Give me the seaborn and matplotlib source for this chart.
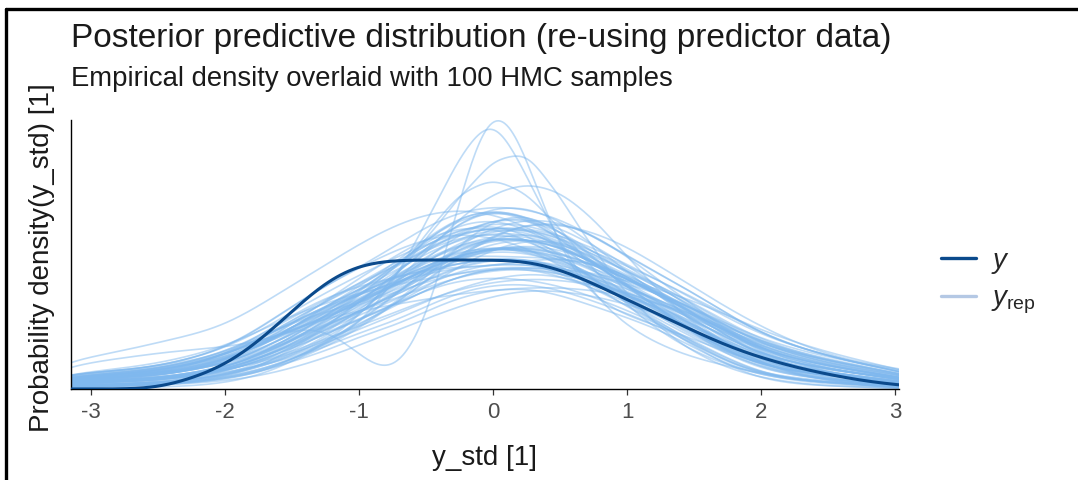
import numpy as np
import pandas as pd
import seaborn as sns
import matplotlib.pyplot as plt
from matplotlib.colors import to_hex
from matplotlib.lines import Line2D

x_grid = [-3.25, -3.0, -2.75, -2.5, -2.25, -2.0, -1.75, -1.5, -1.25, -1.0, -0.75, -0.5, -0.25,
          0.0, 0.25, 0.5, 0.75, 1.0, 1.25, 1.5, 1.75, 2.0, 2.25, 2.5, 2.75, 3.0, 3.25]
x_range = (-3.15, 3.03)

# empirical density of y (relative heights)
y_obs = [0, 0, 0, 0.5, 10, 22, 45, 75, 105, 121, 124.5, 124.5, 124.5, 124.5, 124, 116, 102,
         86, 71, 56, 41, 30, 21, 14, 8, 4, 1.5]

# replicated draws, same relative units
yrep_draws = [
    [7, 9, 11, 13, 18, 24, 36, 54, 68, 84, 98, 117, 131, 137, 137, 129, 114, 99, 84, 67, 48, 33, 25, 19, 15, 10, 6],
    [4, 4, 5, 7, 11, 17, 26, 40, 57, 74, 90, 110, 128, 137, 138, 131, 121, 106, 91, 78, 60, 44, 34, 27, 21, 16, 10],
    [11, 14, 16, 19, 24, 32, 46, 66, 79, 93, 106, 118, 131, 137, 136, 127, 110, 93, 76, 56, 38, 24, 16, 10, 7, 4, 1],
    [5, 6, 7, 9, 12, 17, 26, 40, 52, 68, 79, 96, 110, 117, 117, 110, 97, 84, 70, 53, 35, 23, 17, 13, 10, 6, 2],
    [10, 12, 14, 17, 23, 32, 46, 68, 84, 100, 117, 137, 152, 157, 156, 147, 130, 113, 97, 80, 60, 43, 33, 25, 19, 14, 8],
    [2, 2, 3, 5, 8, 13, 20, 32, 47, 63, 79, 96, 110, 117, 118, 112, 103, 91, 77, 62, 45, 33, 25, 19, 15, 10, 6],
    [7, 9, 11, 13, 18, 27, 40, 60, 77, 96, 116, 136, 151, 157, 157, 149, 137, 120, 104, 87, 68, 52, 41, 32, 24, 18, 11],
    [13, 16, 18, 22, 29, 39, 54, 75, 93, 110, 126, 140, 152, 157, 155, 145, 126, 107, 90, 73, 54, 37, 27, 20, 15, 10, 6],
    [7, 8, 9, 11, 15, 21, 30, 41, 54, 68, 81, 96, 106, 108, 106, 100, 89, 76, 62, 45, 28, 15, 9, 6, 4, 2, 0],
    [8, 10, 12, 15, 20, 27, 37, 53, 68, 84, 99, 113, 123, 127, 126, 118, 104, 89, 71, 54, 37, 24, 17, 13, 10, 6, 2],
    [2, 2, 3, 4, 6, 10, 15, 27, 36, 51, 60, 75, 89, 96, 98, 91, 80, 69, 57, 40, 23, 13, 9, 6, 5, 2, 0],
    [13, 16, 18, 22, 29, 39, 57, 81, 100, 117, 136, 158, 173, 178, 175, 166, 147, 128, 110, 93, 72, 53, 41, 32, 24, 18, 11],
    [5, 6, 7, 10, 14, 21, 31, 48, 65, 83, 99, 116, 130, 137, 138, 131, 120, 106, 91, 74, 56, 42, 33, 25, 19, 14, 8],
    [10, 12, 14, 17, 21, 28, 40, 57, 71, 86, 100, 117, 131, 137, 135, 125, 108, 92, 77, 60, 41, 27, 18, 13, 10, 6, 2],
    [4, 4, 5, 6, 9, 14, 24, 40, 60, 84, 108, 136, 161, 175, 168, 148, 122, 98, 76, 54, 35, 20, 13, 9, 7, 4, 1],
    [11, 14, 16, 20, 26, 33, 45, 58, 69, 76, 81, 87, 92, 96, 98, 99, 96, 90, 83, 72, 59, 45, 36, 29, 22, 16, 9],
    [13, 16, 18, 22, 29, 39, 57, 80, 100, 117, 133, 146, 151, 147, 137, 120, 99, 79, 62, 42, 25, 14, 9, 6, 5, 2, 0],
    [2, 2, 3, 4, 6, 9, 15, 28, 44, 64, 88, 115, 140, 157, 165, 163, 148, 129, 110, 93, 72, 53, 41, 32, 24, 18, 11],
    [7, 8, 9, 11, 15, 21, 31, 47, 60, 76, 88, 106, 120, 127, 127, 119, 105, 91, 77, 60, 41, 28, 21, 16, 12, 8, 4],
    [8, 10, 12, 15, 20, 28, 41, 61, 76, 92, 107, 127, 141, 147, 146, 138, 122, 106, 90, 73, 54, 38, 29, 22, 17, 12, 6],
    [1, 1, 1, 2, 3, 6, 13, 26, 44, 66, 89, 115, 136, 146, 144, 129, 106, 83, 62, 41, 23, 10, 5, 3, 2, 0, 0],
    [14, 17, 20, 24, 32, 40, 55, 72, 84, 93, 100, 107, 112, 116, 118, 117, 113, 105, 96, 86, 71, 56, 45, 35, 27, 20, 12],
    [5, 6, 7, 9, 13, 20, 32, 50, 70, 91, 110, 134, 152, 165, 165, 154, 132, 112, 91, 71, 50, 34, 25, 19, 15, 10, 6],
    [4, 4, 5, 6, 9, 13, 20, 32, 44, 58, 70, 85, 98, 107, 113, 110, 100, 90, 78, 65, 50, 38, 29, 22, 17, 12, 6],
    [10, 12, 14, 20, 26, 36, 50, 64, 75, 83, 92, 110, 131, 147, 153, 145, 122, 99, 77, 55, 36, 22, 13, 9, 7, 4, 1],
    [8, 9, 10, 11, 14, 18, 25, 34, 45, 61, 80, 107, 140, 166, 172, 155, 124, 101, 85, 68, 53, 38, 28, 19, 14, 9, 3],
    [8, 10, 12, 15, 18, 24, 32, 47, 63, 84, 104, 122, 130, 128, 127, 127, 121, 111, 95, 73, 50, 30, 21, 16, 12, 8, 4],
    [2, 2, 3, 6, 10, 16, 26, 44, 61, 81, 100, 124, 142, 155, 156, 147, 132, 119, 104, 88, 71, 54, 41, 32, 24, 19, 15],
    [14, 16, 18, 22, 27, 35, 47, 65, 78, 91, 102, 114, 122, 127, 124, 112, 97, 81, 63, 46, 29, 15, 9, 6, 4, 1, 0],
    [7, 9, 11, 13, 18, 25, 38, 59, 81, 98, 108, 116, 118, 118, 124, 128, 122, 111, 90, 67, 45, 30, 22, 18, 15, 10, 6],
    [5, 6, 7, 9, 12, 18, 30, 47, 66, 86, 106, 128, 147, 156, 153, 140, 121, 101, 82, 62, 43, 29, 21, 16, 12, 8, 4],
    [8, 10, 12, 15, 19, 25, 35, 50, 62, 75, 87, 98, 109, 116, 117, 112, 104, 93, 82, 68, 53, 39, 29, 22, 17, 12, 6],
    [7, 8, 9, 13, 18, 27, 42, 63, 85, 107, 127, 146, 157, 156, 145, 127, 105, 84, 64, 44, 26, 14, 9, 6, 5, 2, 0],
    [4, 4, 5, 6, 9, 13, 22, 36, 54, 76, 99, 127, 150, 165, 166, 156, 139, 119, 98, 77, 55, 35, 21, 13, 9, 5, 1],
    [10, 12, 14, 16, 19, 24, 34, 47, 61, 75, 89, 105, 119, 127, 126, 120, 112, 99, 85, 71, 56, 43, 34, 28, 22, 16, 9],
    [7, 9, 11, 13, 18, 24, 36, 54, 74, 94, 118, 143, 161, 166, 156, 137, 115, 99, 83, 66, 48, 33, 25, 19, 15, 10, 6],
    [2, 2, 3, 4, 7, 12, 21, 38, 59, 84, 108, 136, 161, 176, 176, 163, 139, 113, 89, 65, 43, 25, 14, 8, 5, 2, 0],
    [13, 15, 17, 20, 25, 32, 45, 60, 74, 86, 99, 116, 130, 137, 136, 129, 116, 104, 91, 78, 62, 48, 38, 31, 24, 18, 11],
    [5, 6, 7, 9, 12, 17, 26, 39, 53, 67, 80, 98, 119, 136, 145, 144, 131, 114, 97, 79, 58, 39, 25, 16, 10, 6, 2],
    [8, 10, 12, 16, 22, 33, 50, 72, 89, 100, 107, 115, 122, 126, 126, 119, 106, 91, 75, 55, 36, 23, 17, 13, 10, 6, 2],
    [4, 4, 5, 8, 13, 20, 32, 51, 68, 84, 99, 118, 137, 147, 146, 138, 122, 106, 90, 71, 50, 33, 22, 15, 10, 6, 2],
    [11, 13, 15, 18, 23, 29, 41, 59, 79, 99, 119, 146, 168, 175, 165, 146, 122, 99, 76, 53, 32, 19, 13, 9, 7, 4, 1],
    [6, 8, 9, 11, 15, 21, 31, 47, 62, 80, 96, 118, 136, 145, 146, 138, 122, 106, 90, 73, 54, 38, 29, 22, 17, 11, 6],
    [8, 10, 12, 15, 20, 28, 40, 58, 73, 88, 102, 120, 133, 139, 136, 126, 110, 94, 79, 61, 43, 29, 21, 16, 12, 8, 4],
    [11, 13, 16, 20, 26, 35, 50, 70, 86, 102, 117, 135, 148, 152, 146, 133, 114, 96, 80, 62, 43, 29, 21, 16, 12, 8, 4],
    [4, 6, 7, 9, 13, 18, 28, 44, 58, 76, 90, 112, 130, 142, 146, 142, 128, 114, 99, 83, 64, 47, 36, 28, 21, 15, 8],
    [7, 9, 11, 13, 18, 24, 36, 54, 70, 90, 114, 145, 168, 176, 168, 146, 118, 99, 84, 67, 48, 33, 25, 19, 15, 10, 5],
    [10, 12, 14, 17, 23, 32, 46, 66, 80, 92, 102, 112, 118, 120, 121, 118, 110, 102, 92, 78, 59, 43, 33, 25, 19, 13, 7],
    [5, 7, 8, 10, 13, 19, 28, 43, 57, 74, 90, 110, 126, 136, 140, 136, 124, 108, 92, 73, 52, 36, 27, 20, 15, 9, 5],
    [9, 11, 13, 16, 21, 28, 41, 60, 76, 92, 106, 123, 134, 138, 134, 122, 106, 90, 74, 57, 40, 27, 19, 14, 11, 7, 4],
    [9, 11, 13, 16, 21, 30, 43, 64, 80, 96, 112, 132, 146, 152, 151, 142, 126, 110, 94, 76, 57, 40, 31, 23, 18, 12, 6],
    [5, 7, 8, 10, 13, 19, 28, 43, 56, 72, 84, 101, 115, 122, 122, 114, 101, 87, 73, 56, 38, 25, 19, 14, 11, 7, 4],
    [4, 6, 7, 9, 12, 17, 28, 46, 66, 90, 114, 146, 165, 172, 168, 154, 128, 100, 76, 55, 36, 23, 17, 13, 10, 6, 3],
    [10, 12, 14, 17, 23, 31, 43, 58, 70, 82, 92, 104, 113, 118, 119, 115, 107, 97, 86, 72, 55, 40, 31, 24, 18, 12, 6],
    [5, 7, 8, 10, 14, 19, 28, 44, 60, 78, 95, 115, 130, 138, 139, 133, 120, 106, 93, 78, 60, 45, 35, 27, 21, 15, 9],
    [12, 14, 16, 19, 24, 30, 40, 56, 70, 85, 99, 117, 129, 134, 133, 124, 108, 91, 75, 57, 39, 25, 17, 12, 9, 5, 2],
    [11, 13, 15, 18, 24, 33, 47, 66, 84, 102, 120, 140, 155, 162, 160, 150, 133, 115, 99, 82, 62, 45, 35, 27, 20, 14, 8],
    [3, 3, 4, 5, 7, 11, 17, 30, 40, 55, 64, 80, 94, 101, 102, 96, 85, 73, 60, 43, 26, 15, 11, 7, 6, 3, 1],
    [4, 4, 5, 6, 8, 12, 18, 28, 42, 60, 80, 104, 128, 148, 160, 162, 150, 128, 104, 80, 56, 36, 24, 16, 11, 7, 3],
    [6, 8, 9, 11, 15, 22, 33, 50, 70, 94, 118, 140, 156, 160, 150, 130, 106, 84, 66, 49, 33, 21, 14, 10, 7, 4, 1],
    [8, 10, 12, 14, 19, 27, 40, 59, 75, 91, 106, 125, 139, 146, 146, 139, 124, 108, 92, 75, 55, 39, 29, 22, 17, 11, 6],
    [5, 7, 8, 10, 13, 18, 25, 36, 48, 61, 73, 86, 97, 104, 107, 106, 101, 93, 83, 70, 55, 41, 31, 23, 17, 11, 6],
    # the spiky / off-band draws
    [9, 12, 14, 18, 24, 33, 46, 58, 62, 35, 0, 55, 180, 317, 225, 125, 85, 70, 60, 48, 35, 24, 15, 8, 4, 1, 0],
    [6, 6, 7, 9, 12, 16, 22, 30, 42, 62, 100, 160, 225, 273, 205, 140, 90, 60, 42, 30, 22, 15, 10, 7, 5, 3, 1],
    [3, 3, 4, 6, 9, 14, 22, 33, 48, 70, 105, 145, 185, 222, 232, 185, 135, 90, 58, 35, 20, 11, 6, 3, 2, 1, 0],
    [4, 4, 5, 7, 10, 15, 22, 34, 50, 72, 100, 132, 165, 190, 200, 192, 165, 128, 92, 62, 40, 25, 15, 9, 5, 3, 1],
    [26, 31, 37, 45, 52, 60, 80, 100, 120, 140, 158, 170, 175, 170, 158, 140, 115, 90, 68, 50, 35, 24, 16, 10, 6, 3, 0],
    [2, 2, 3, 4, 5, 8, 12, 20, 30, 42, 55, 68, 80, 90, 96, 95, 90, 82, 72, 60, 45, 32, 22, 14, 8, 4, 0],
    [21, 26, 30, 35, 38, 40, 45, 55, 68, 85, 105, 125, 140, 150, 150, 140, 122, 100, 80, 60, 42, 28, 18, 11, 6, 3, 0],
    [2, 2, 3, 4, 6, 10, 16, 26, 40, 58, 80, 105, 130, 150, 160, 160, 152, 138, 118, 98, 78, 60, 45, 33, 25, 20, 16],
    [3, 3, 4, 5, 7, 11, 17, 28, 45, 70, 105, 150, 190, 205, 190, 155, 115, 80, 55, 36, 23, 14, 8, 5, 3, 2, 1],
]

x_ticks = [-3, -2, -1, 0, 1, 2, 3]
title = "Posterior predictive distribution (re-using predictor data)"
subtitle = "Empirical density overlaid with 100 HMC samples"
x_label = "y_std [1]"
y_label = "Probability density(y_std) [1]"

sns.set_theme(style="white")
plt.rcParams["font.family"] = ["Liberation Sans", "DejaVu Sans"]
plt.rcParams["mathtext.fontset"] = "custom"
plt.rcParams["mathtext.rm"] = "Liberation Sans"
plt.rcParams["mathtext.it"] = "Liberation Sans:italic"

dark = "#0b4a8c"
light = "#7fb8ee"

# long table: one group per curve, heights used as weights of a narrow kde
rep = pd.DataFrame(np.array(yrep_draws).T, index=x_grid)
rep = rep.reset_index(names="x").melt(id_vars="x", var_name="draw", value_name="height")
rep["draw"] = "rep" + rep["draw"].astype(str)
obs = pd.DataFrame({"x": x_grid, "draw": "y", "height": y_obs})
curves = pd.concat([rep, obs], ignore_index=True)

palette = {d: light for d in rep["draw"].unique()}
palette["y"] = dark

fig = plt.figure(figsize=(10.78, 4.8), dpi=100)
ax = fig.add_axes([71 / 1078, 91 / 480, 828 / 1078, 269 / 480])

sns.kdeplot(data=curves, x="x", weights="height", hue="draw", palette=palette,
            common_norm=True, bw_method=0.17, clip=x_range, gridsize=400,
            linewidth=1.2, alpha=0.5, legend=False, ax=ax)

for line in ax.lines:
    if to_hex(line.get_color()) == dark:
        line.set_linewidth(2.2)
        line.set_alpha(1)
        line.set_zorder(5)

top = max(line.get_ydata().max() for line in ax.lines)
ax.set_xlim(*x_range)
ax.set_ylim(0, top * 1.003)
ax.set_xticks(x_ticks, labels=[str(t) for t in x_ticks])
ax.set_yticks([])
ax.set_xlabel("")
ax.set_ylabel("")
ax.tick_params(axis="x", bottom=True, length=4, width=0.9, color="#333333",
               labelsize=16, labelcolor="#4d4d4d", pad=5)
for side in ["top", "right"]:
    ax.spines[side].set_visible(False)
for side in ["left", "bottom"]:
    ax.spines[side].set_color("black")
    ax.spines[side].set_linewidth(1.0)

fig.text(71 / 1078, 1 - 47 / 480, title, fontsize=24, color="#1a1a1a", va="baseline")
fig.text(71 / 1078, 1 - 86 / 480, subtitle, fontsize=19.8, color="#1a1a1a", va="baseline")
fig.text(42 / 1078, 1 - 258 / 480, y_label, fontsize=20, rotation=90,
         ha="center", va="center", color="#1a1a1a")
fig.text(485 / 1078, 1 - 458 / 480, x_label, fontsize=20, ha="center", va="center",
         color="#1a1a1a")

handles = [Line2D([], [], color=dark, linewidth=2.4),
           Line2D([], [], color="#b4c8e4", linewidth=2.4)]
fig.legend(handles, [r"$y$", r"$y_{\mathrm{rep}}$"], loc="center left",
           bbox_to_anchor=(916 / 1078, 198 / 480), frameon=False, fontsize=20,
           handlelength=1.25, handletextpad=0.55, labelspacing=0.35)

# frame of the original screenshot
fig.add_artist(Line2D([6 / 1078, 1], [1 - 9 / 480, 1 - 9 / 480],
                      transform=fig.transFigure, color="black", linewidth=2.4))
fig.add_artist(Line2D([6 / 1078, 6 / 1078], [0, 1 - 9 / 480],
                      transform=fig.transFigure, color="black", linewidth=2.4))

fig.savefig("out.png", dpi=100)
